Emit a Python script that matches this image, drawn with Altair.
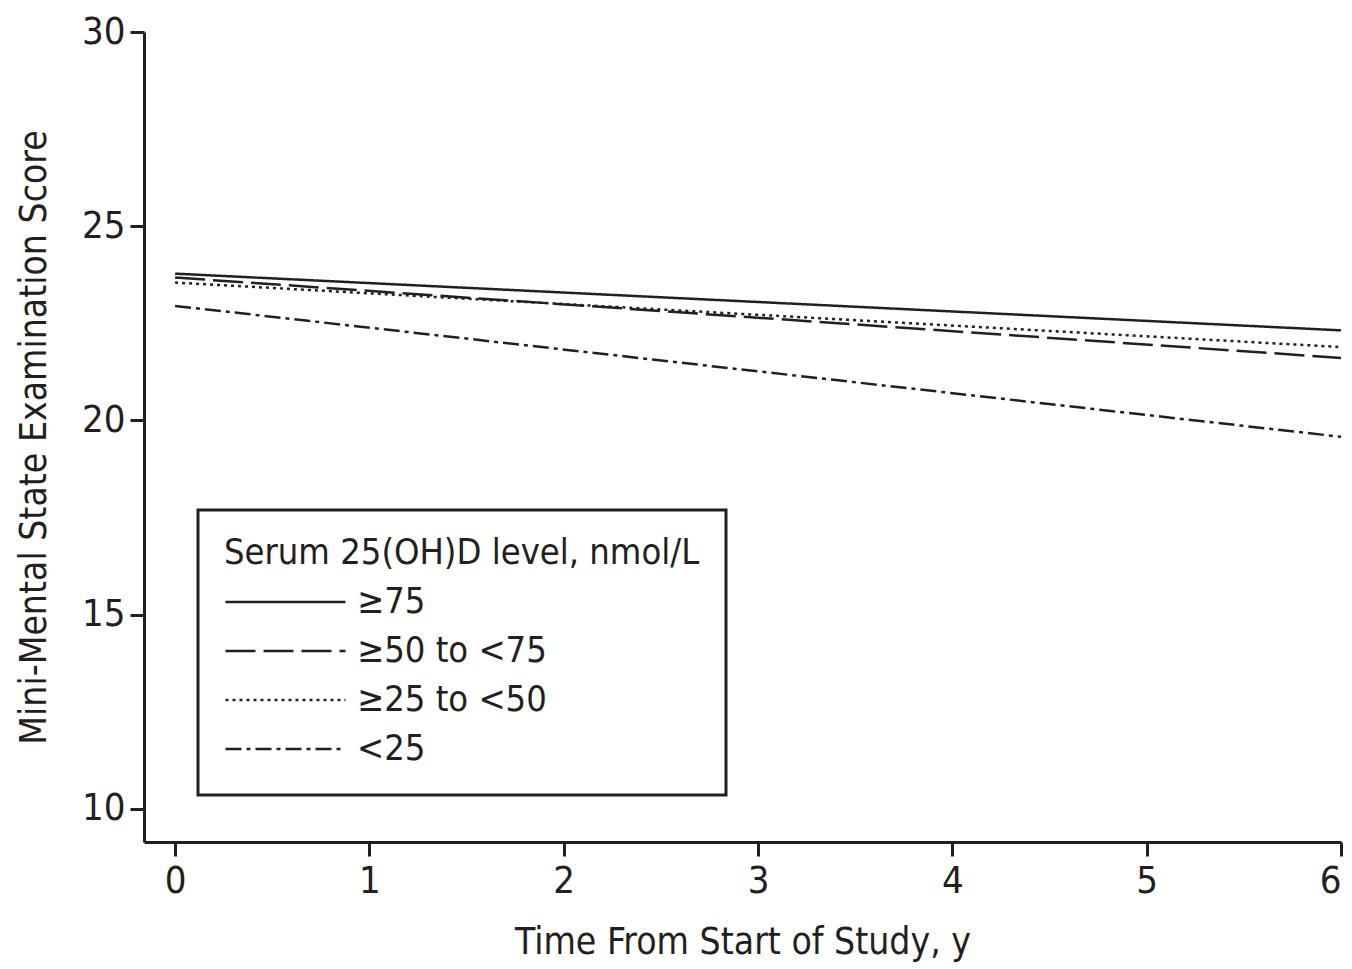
import altair as alt
import pandas as pd

groups = ["≥75", "≥50 to <75", "≥25 to <50", "<25"]
years = [0, 6]
score_start = [23.78, 23.68, 23.55, 22.95]
score_end = [22.32, 21.61, 21.89, 19.58]

rows = []
for g, s, e in zip(groups, score_start, score_end):
    rows.append({"group": g, "year": years[0], "score": s})
    rows.append({"group": g, "year": years[1], "score": e})
df = pd.DataFrame(rows)

FONT = "DejaVu Sans Condensed, Liberation Sans Narrow, sans-serif"
INK = "#231f20"

chart = alt.Chart(df).mark_line(color=INK, strokeWidth=2.5).encode(
    x=alt.X("year:Q",
            scale=alt.Scale(domain=[-0.16, 6], nice=False, zero=False),
            axis=alt.Axis(values=[0, 1, 2, 3, 4, 5, 6], format="d",
                          title="Time From Start of Study, y")),
    y=alt.Y("score:Q",
            scale=alt.Scale(domain=[9.15, 30], nice=False, zero=False),
            axis=alt.Axis(values=[10, 15, 20, 25, 30],
                          title="Mini-Mental State Examination Score")),
    strokeDash=alt.StrokeDash(
        "group:N",
        scale=alt.Scale(domain=groups,
                        range=[[1, 0], [30, 8], [3, 4], [16, 5, 4, 5]]),
        legend=alt.Legend(title="Serum 25(OH)D level, nmol/L",
                          orient="none", legendX=54, legendY=478,
                          symbolType="stroke", symbolSize=14400,
                          symbolStrokeWidth=2.5, symbolStrokeColor=INK,
                          clipHeight=40, rowPadding=9, padding=26,
                          labelOffset=10, strokeColor=INK,
                          labelLimit=500, titleLimit=700),
    ),
    detail="group:N",
).properties(
    width=1197, height=810,
    autosize=alt.AutoSizeParams(type="none"),
    padding={"left": 144, "top": 32, "right": 11, "bottom": 127},
).configure_view(stroke=None).configure_axis(
    grid=False, domainColor=INK, domainWidth=3, tickColor=INK, tickWidth=3,
    tickSize=14, labelFont=FONT, labelFontSize=38, labelColor=INK,
    titleFont=FONT, titleFontSize=37, titleFontWeight="normal", titleColor=INK,
).configure_axisX(labelPadding=6, titlePadding=24).configure_axisY(
    labelPadding=5, titlePadding=28
).configure_legend(
    titleFont=FONT, titleFontSize=36, titleFontWeight="normal", titleColor=INK,
    labelFont=FONT, labelFontSize=36, labelColor=INK, titlePadding=10,
    strokeWidth=3,
)

chart.save("out.html", embed_options={"renderer": "svg", "actions": False})
